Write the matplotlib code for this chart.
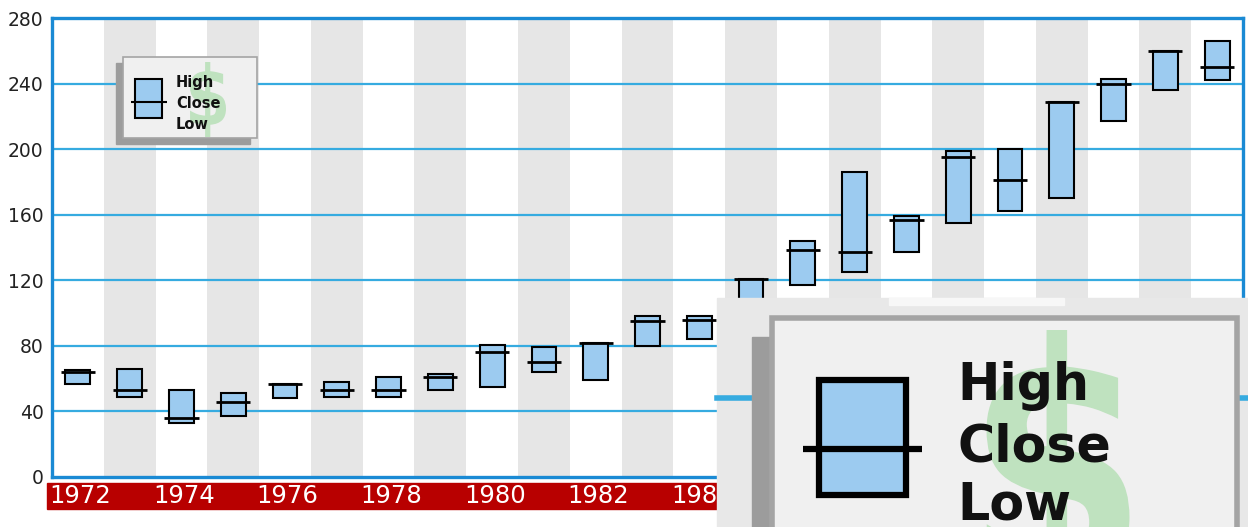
import numpy as np
import matplotlib
matplotlib.use("Agg")
import matplotlib.pyplot as plt
from matplotlib.patches import Rectangle, PathPatch
from matplotlib.textpath import TextPath
from matplotlib.font_manager import FontProperties
from matplotlib.transforms import Affine2D, blended_transform_factory

# yearly high / low / close
years = list(range(1972, 1995))
high = [65, 66, 53, 51, 57, 58, 61, 63, 80.5, 79, 82, 98, 98, 121, 144, 186, 159, 199, 200, 229, 243, 260, 266]
low = [57, 49, 33, 37, 48, 49, 49, 53, 55, 64, 59, 80, 84, 104, 117, 125, 137, 155, 162, 170, 217, 236, 242]
close = [64, 53, 36, 45.5, 57, 53, 53, 61, 76, 70, 81.5, 95, 96, 120.5, 138.5, 137, 157, 195, 181, 229, 240, 260, 250]
yticks = [0, 40, 80, 120, 160, 200, 240, 280]
legend_labels = ["High", "Close", "Low"]
# year labels not hidden behind the zoomed inset
shown_years = [1972, 1974, 1976, 1978, 1980, 1982, 1984]

W, H = 1248, 527
fill_blue = "#9ccbf0"
frame_blue = "#1a8ad4"
grid_blue = "#36abe0"
green = "#bfe2bf"

fig = plt.figure(figsize=(W / 100, H / 100), dpi=100)
ax = fig.add_axes([52 / W, (H - 477) / H, 1191 / W, 459 / H])

x = np.arange(len(years))
high = np.array(high)
low = np.array(low)
close = np.array(close)

# alternating column shading
for i in x:
    if i % 2 == 1:
        ax.axvspan(i - 0.5, i + 0.5, color="#e6e6e6", lw=0, zorder=0)

for v in yticks[1:-1]:
    ax.axhline(v, color=grid_blue, lw=1.6, zorder=1)

ax.bar(x, high - low, bottom=low, width=0.48, color=fill_blue,
       edgecolor="black", linewidth=1.5, zorder=3)
ax.hlines(close, x - 0.33, x + 0.33, color="black", lw=2.0, zorder=4)

ax.set_xlim(-0.5, len(years) - 0.5)
ax.set_ylim(0, 280)
ax.set_yticks(yticks)
ax.tick_params(axis="y", length=0, pad=6, labelsize=13.5, labelcolor="#222222")
ax.set_xticks([])
for s in ax.spines.values():
    s.set_color(frame_blue)
    s.set_linewidth(2.4)

# red year strip below the axes
ax.add_patch(Rectangle((-5 / 1191, -32 / 459), 1 + 5 / 1191, 26 / 459,
                       transform=ax.transAxes, color="#b80000", clip_on=False, zorder=5))
tr = blended_transform_factory(ax.transData, ax.transAxes)
for yr in shown_years:
    ax.text(years.index(yr) + 0.05, -19 / 459, str(yr), transform=tr, ha="center", va="center",
            color="white", fontsize=17.5, clip_on=False, zorder=6)

# overlay in pixel coordinates for the legend and the zoomed inset
ov = fig.add_axes([0, 0, 1, 1])
ov.set_xlim(0, W)
ov.set_ylim(H, 0)
ov.axis("off")
ov.patch.set_alpha(0)
ov.set_zorder(5)


def dollar(cx, top, w, h, clip=None):
    tp = TextPath((0, 0), "$", size=1, prop=FontProperties(family="DejaVu Sans", weight="bold"))
    bb = tp.get_extents()
    t = (Affine2D().translate(-bb.x0 - bb.width / 2, -bb.y1)
         .scale(w / bb.width, -h / bb.height).translate(cx, top))
    p = PathPatch(t.transform_path(tp), color=green, lw=0, zorder=3)
    ov.add_patch(p)
    if clip is not None:
        p.set_clip_path(clip)


def legend(x0, y0, bw, bh, sh, sym, line, tx, bases, fs, dol, lw, edge, clip=None):
    arts = []
    arts.append(Rectangle((x0 - sh[0], y0 + sh[1]), bw, bh, color="#9c9c9c", zorder=2))
    arts.append(Rectangle((x0, y0), bw, bh, facecolor="#f0f0f0", edgecolor="#a4a4a4", lw=edge, zorder=2))
    arts.append(Rectangle((sym[0], sym[1]), sym[2], sym[3], facecolor=fill_blue,
                          edgecolor="black", lw=lw, zorder=4))
    for a in arts:
        ov.add_patch(a)
        if clip is not None:
            a.set_clip_path(clip)
    dollar(*dol, clip=clip)
    ln, = ov.plot([line[0], line[1]], [line[2], line[2]], color="black", lw=lw, zorder=5,
                  solid_capstyle="butt")
    if clip is not None:
        ln.set_clip_path(clip)
    for lab, b in zip(legend_labels, bases):
        t = ov.text(tx, b, lab, fontsize=fs, weight="bold", color="#111111", va="baseline", zorder=6)
        if clip is not None:
            t.set_clip_path(clip)


# small legend inside the plot
legend(123, 57, 134, 81, (7, 6), (135, 79, 27, 39), (131, 167, 102), 176, (87, 108, 129),
       10.5, (208, 62, 36, 75), 1.5, 1.2)

# magnified legend inset at the lower right
inset_bg = Rectangle((717, 298), W - 717, H - 298, color="#e8e8e8", zorder=1)
ov.add_patch(inset_bg)
ov.add_patch(Rectangle((889, 298), 175, 7, color="#f7f7f7", zorder=1))
ov.plot([717, 752], [398, 398], color=grid_blue, lw=4, zorder=1)
ov.plot([1237, W], [398, 398], color=grid_blue, lw=4, zorder=1)
legend(772, 318, 465, 260, (20, 19), (819, 380, 87, 115), (803, 922, 449), 957, (400, 462, 520),
       36.5, (1058, 330, 143, 300), 4.5, 4, clip=inset_bg)

fig.savefig("out.png", dpi=100)
